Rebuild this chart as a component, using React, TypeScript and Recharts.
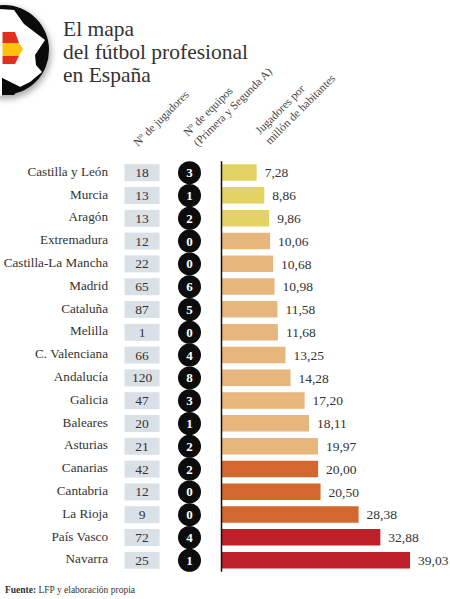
import React from "react";
import { BarChart, Bar, XAxis, YAxis, Cell, LabelList, Customized } from "recharts";

const regions = ["Castilla y León","Murcia","Aragón","Extremadura","Castilla-La Mancha","Madrid","Cataluña","Melilla","C. Valenciana","Andalucía","Galicia","Baleares","Asturias","Canarias","Cantabria","La Rioja","País Vasco","Navarra"];
const players = [18,13,13,12,22,65,87,1,66,120,47,20,21,42,12,9,72,25];
const teams = [3,1,2,0,0,6,5,0,4,8,3,1,2,2,0,0,4,1];
const perMillion = [7.28,8.86,9.86,10.06,10.68,10.98,11.58,11.68,13.25,14.28,17.2,18.11,19.97,20.0,20.5,28.38,32.88,39.03];
const barColors = ["#e3d264","#e3d264","#e3d264","#e6b67c","#e6b67c","#e6b67c","#e6b67c","#e6b67c","#e6b67c","#e6b67c","#e6b67c","#e6b67c","#e6b67c","#d2682e","#d2682e","#d2682e","#bd2029","#bd2029"];
const titleLines = ["El mapa","del fútbol profesional","en España"];

const data = regions.map((region, i) => ({ region, players: players[i], teams: teams[i], value: perMillion[i] }));
const FONT = "'Liberation Serif', serif";

function RowTick(props: any) {
  const { y, payload, index } = props;
  return (
    <g fontFamily={FONT}>
      <text x={108} y={y} dy={3} textAnchor="end" fontSize={13.2} fill="#333">{payload.value}</text>
      <rect x={124.5} y={y - 8.5} width={35} height={17} fill="#d9e0e6" />
      <text x={142} y={y} dy={4.5} textAnchor="middle" fontSize={13.5} fill="#333">{players[index]}</text>
      <circle cx={189.5} cy={y} r={11.5} fill="#0c0c0c" />
      <text x={189.5} y={y} dy={4.5} textAnchor="middle" fontSize={13} fontWeight="bold" fill="#fff">{teams[index]}</text>
    </g>
  );
}

function Decor() {
  return (
    <g>
      <defs>
        <filter id="sh" x="-30%" y="-30%" width="170%" height="170%"><feGaussianBlur stdDeviation="3" /></filter>
      </defs>
      <circle cx={5} cy={53} r={46} fill="#aaa" filter="url(#sh)" />
      <circle cx={4} cy={50} r={45} fill="#0b0b0b" />
      <polygon points="0,9 14,10 24,24 45,40 35,55 36,65 42,72 30,82 20,87 2,78 2,96 0,96" fill="#fff" />
      <polygon points="2,78 20,87 14,95 2,95" fill="#0b0b0b" />
      <polygon points="2.5,32 15,32 19,43 2.5,43" fill="#e2301f" />
      <polygon points="2.5,43 19,43 23,49 19,56 2.5,56" fill="#fdc20d" />
      <polygon points="2.5,56 19,56 15,64 2.5,64" fill="#e2301f" />
      <g fontFamily={FONT} fontSize={21.5} fill="#333">
        {titleLines.map((t, i) => <text key={t} x={63} y={36 + i * 23}>{t}</text>)}
      </g>
      <g fontFamily={FONT} fontSize={11.5} fill="#444">
        <text transform="translate(138,147) rotate(-45)">Nº de jugadores</text>
        <text transform="translate(188,137) rotate(-45)">Nº de equipos</text>
        <text transform="translate(198,147) rotate(-45)">(Primera y Segunda A)</text>
        <text transform="translate(260,135) rotate(-45)">Jugadores por</text>
        <text transform="translate(270,145) rotate(-45)">millón de habitantes</text>
      </g>
      <text x={5} y={593} fontFamily={FONT} fontSize={9.5} fill="#333"><tspan fontWeight="bold">Fuente:</tspan> LFP y elaboración propia</text>
    </g>
  );
}

export default function App() {
  return (
    <div style={{ position: "absolute", left: 0, top: 0, width: 450, height: 599, background: "#fff" }}>
      <BarChart layout="vertical" width={450} height={599} data={data} margin={{ top: 161.3, right: 0, bottom: 27.3, left: 0 }} barCategoryGap={3}>
        <XAxis type="number" hide domain={[0, 47.3]} />
        <YAxis type="category" dataKey="region" width={221.5} tick={RowTick} tickLine={false} axisLine={{ stroke: "#111", strokeWidth: 1.5 }} interval={0} />
        <Bar dataKey="value" isAnimationActive={false} barSize={16.5}>
          {data.map((d, i) => <Cell key={d.region} fill={barColors[i]} />)}
          <LabelList dataKey="value" position="right" offset={8} fontFamily={FONT} fontSize={13.5} fill="#333" formatter={(v: number) => v.toFixed(2).replace(".", ",")} />
        </Bar>
        <Customized component={Decor} />
      </BarChart>
    </div>
  );
}
